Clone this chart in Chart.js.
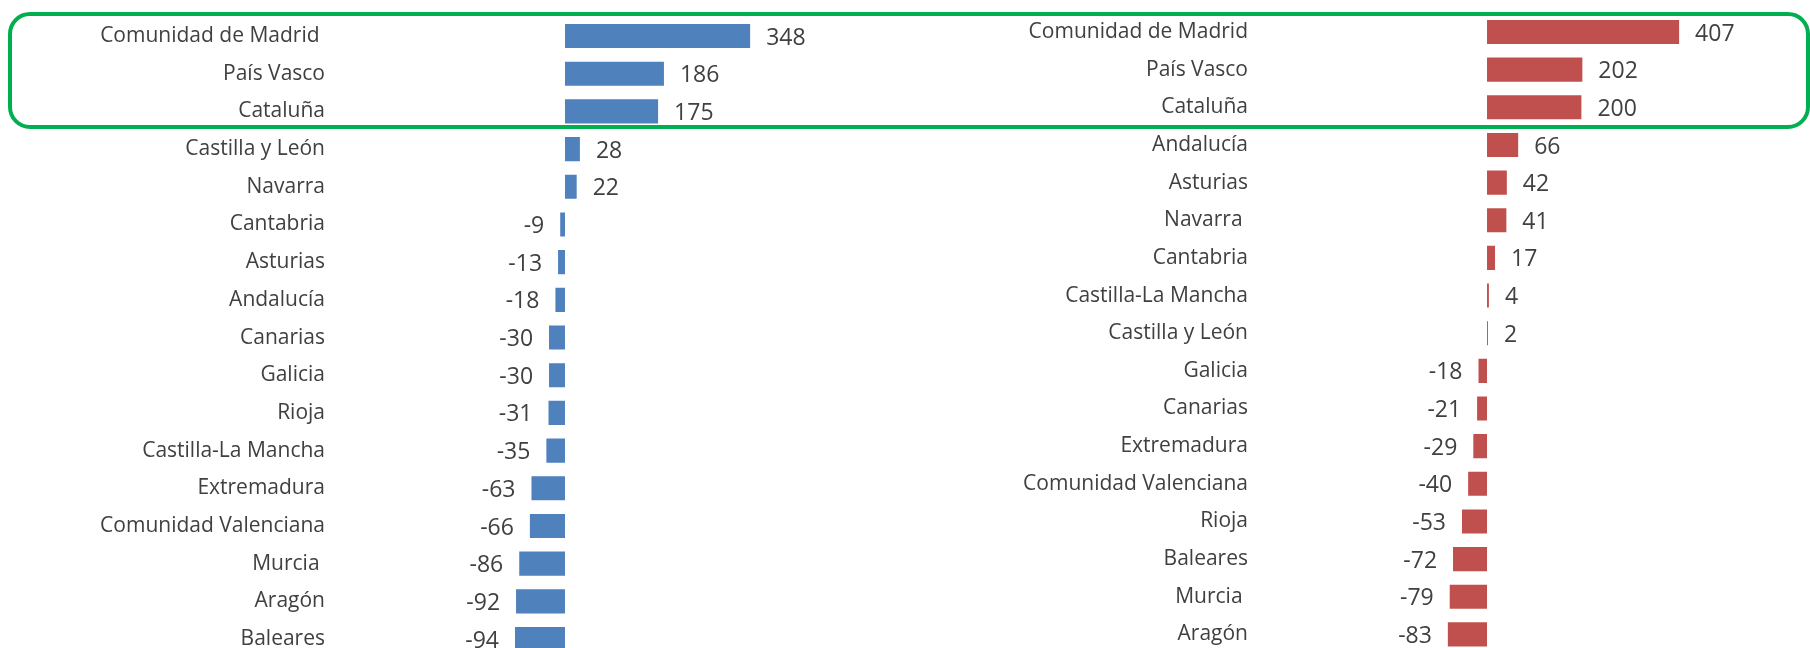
<!DOCTYPE html>
<html>
<head>
<meta charset="utf-8">
<script src="https://cdn.jsdelivr.net/npm/chart.js@4.4.1/dist/chart.umd.min.js"></script>
<style>
  html, body { margin: 0; padding: 0; background: #ffffff; overflow: hidden; width: 1810px; height: 648px; }
  #wrap { position: relative; width: 1810px; height: 648px; overflow: hidden; }
  canvas { position: absolute; top: 0; }
  #c1 { left: 0; }
  #c2 { left: 905px; }
  #box { position: absolute; left: 8px; top: 12px; width: 1794px; height: 109px; border: 4px solid #00B050; border-radius: 22px; pointer-events: none; }
</style>
</head>
<body>
<div id="wrap">
  <canvas id="c1" width="905" height="660"></canvas>
  <canvas id="c2" width="905" height="660"></canvas>
  <div id="box"></div>
</div>
<script>
// ---- data ----
const leftCategories = ["Comunidad de Madrid ", "País Vasco", "Cataluña", "Castilla y León", "Navarra", "Cantabria", "Asturias", "Andalucía", "Canarias", "Galicia", "Rioja", "Castilla-La Mancha", "Extremadura", "Comunidad Valenciana", "Murcia ", "Aragón", "Baleares"];
const leftValues = [348, 186, 175, 28, 22, -9, -13, -18, -30, -30, -31, -35, -63, -66, -86, -92, -94];

const rightCategories = ["Comunidad de Madrid", "País Vasco", "Cataluña", "Andalucía", "Asturias", "Navarra ", "Cantabria", "Castilla-La Mancha", "Castilla y León", "Galicia", "Canarias", "Extremadura", "Comunidad Valenciana", "Rioja", "Baleares", "Murcia ", "Aragón"];
const rightValues = [407, 202, 200, 66, 42, 41, 17, 4, 2, -18, -21, -29, -40, -53, -72, -79, -83];

const FONT_FAMILY = "'Open Sans', 'DejaVu Sans', sans-serif";
const TEXT_COLOR = '#404040';

const valueLabels = {
  id: 'valueLabels',
  afterDatasetsDraw(chart) {
    const ctx = chart.ctx;
    const meta = chart.getDatasetMeta(0);
    const vals = chart.data.datasets[0].data;
    ctx.save();
    ctx.font = "23px " + FONT_FAMILY;
    ctx.fillStyle = TEXT_COLOR;
    ctx.textBaseline = 'middle';
    meta.data.forEach((bar, i) => {
      const v = vals[i];
      const gap = 16;
      if (v >= 0) {
        ctx.textAlign = 'left';
        ctx.fillText(String(v), bar.x + gap, bar.y + 2);
      } else {
        ctx.textAlign = 'right';
        ctx.fillText(String(v), bar.x - gap, bar.y + 2);
      }
    });
    ctx.restore();
  }
};

function makeChart(id, cats, vals, color, axisWidth, xMin, xMax, padTop, padBottom) {
  return new Chart(document.getElementById(id), {
    type: 'bar',
    data: {
      labels: cats,
      datasets: [{
        data: vals,
        backgroundColor: color,
        borderWidth: 0,
        categoryPercentage: 1.0,
        barPercentage: 0.64
      }]
    },
    options: {
      indexAxis: 'y',
      responsive: false,
      animation: false,
      devicePixelRatio: 1,
      layout: { padding: { top: padTop, bottom: padBottom, left: 0, right: 0 } },
      plugins: { legend: { display: false }, tooltip: { enabled: false }, title: { display: false } },
      scales: {
        x: { display: false, min: xMin, max: xMax },
        y: {
          display: true,
          grid: { display: false, drawTicks: false },
          border: { display: false },
          ticks: { padding: 10, color: TEXT_COLOR, font: { family: FONT_FAMILY, size: 21 } },
          afterFit(scale) {
            scale.width = axisWidth;
            scale.paddingTop = 0;
            scale.paddingBottom = 0;
          }
        }
      }
    },
    plugins: [valueLabels]
  });
}

makeChart('c1', leftCategories, leftValues, '#4F81BD', 335, -432.3, 639.1, 17.2, 2.1);
makeChart('c2', rightCategories, rightValues, '#C0504D', 353, -485.2, 684.3, 13.2, 6.8);
</script>
</body>
</html>
